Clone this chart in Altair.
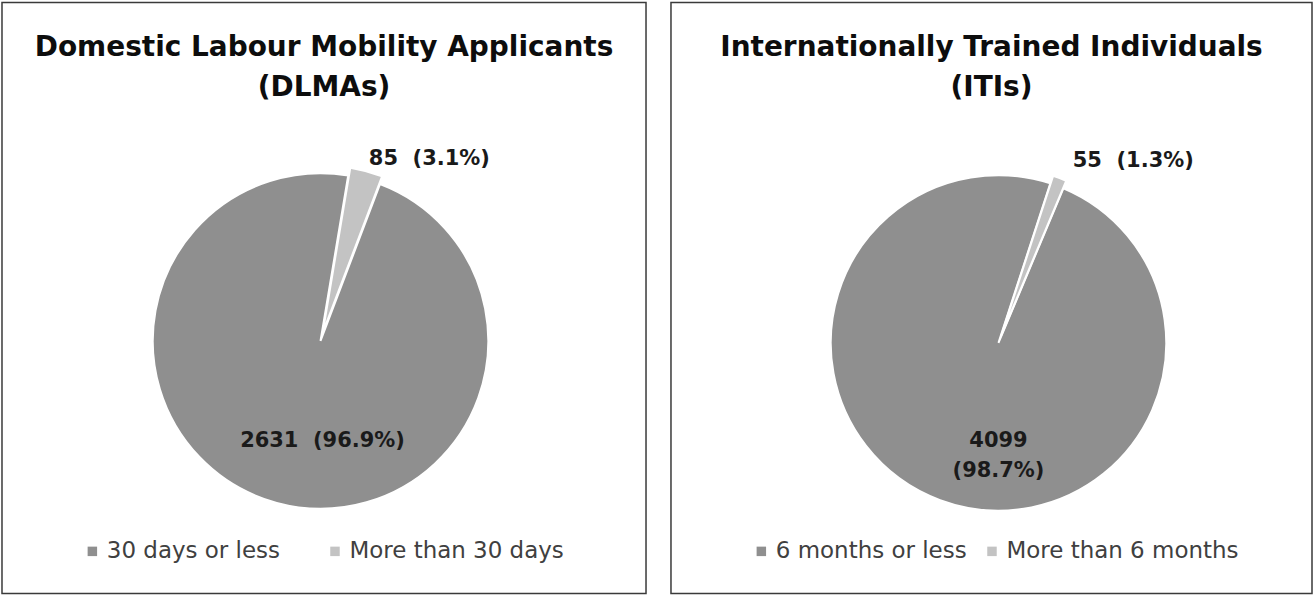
import math
import altair as alt
import pandas as pd

# Processing-time split for the two applicant groups
dlma_categories = ["30 days or less", "More than 30 days"]
dlma_values = [2631, 85]

iti_categories = ["6 months or less", "More than 6 months"]
iti_values = [4099, 55]

SLICE_COLORS = ["#8f8f8f", "#c3c3c3"]
FONT = "DejaVu Sans"
GAP = " \u00a0"  # two visible spaces between count and share


def make_labels(values, main_sep):
    total = sum(values)
    labels = []
    for i, v in enumerate(values):
        pct = f"({v / total * 100:.1f}%)"
        sep = main_sep if i == 0 else GAP
        labels.append(f"{v}{sep}{pct}")
    return labels


def panel(categories, values, title_lines, start_deg, center, radius, explode,
          small_label_xy, main_label_xy, main_sep, legend_xy, legend_pad, width, height):
    df = pd.DataFrame({
        "category": categories,
        "value": values,
        # slot 0 (the small share) is swept first, starting at start_deg
        "slot": [1, 0],
        "label": make_labels(values, main_sep),
    })

    a0 = math.radians(start_deg)
    small_frac = values[1] / sum(values)
    mid = a0 + small_frac * math.pi
    dx = explode * math.sin(mid)
    dy = -explode * math.cos(mid)

    base = (
        alt.Chart(df)
        .transform_joinaggregate(total="sum(value)")
        .transform_window(cum="sum(value)", sort=[alt.SortField("slot")], frame=[None, 0])
        .transform_calculate(f0="(datum.cum - datum.value) / datum.total",
                             f1="datum.cum / datum.total")
    )

    theta = alt.Theta("f0:Q", scale=alt.Scale(domain=[0, 1], range=[a0, a0 + 2 * math.pi]))
    color = alt.Color(
        "category:N",
        scale=alt.Scale(domain=categories, range=SLICE_COLORS),
        legend=alt.Legend(
            title=None, orient="none", direction="horizontal",
            legendX=legend_xy[0], legendY=legend_xy[1],
            symbolType="square", symbolSize=90, symbolStrokeWidth=0,
            labelFont=FONT, labelFontSize=23, labelColor="#404040",
            labelOffset=3, columnPadding=legend_pad, labelLimit=400,
        ),
    )

    main_arc = (
        base.transform_filter("datum.slot == 1")
        .mark_arc(radius=radius, stroke="white", strokeWidth=2)
        .encode(theta=theta, theta2="f1:Q", color=color,
                x=alt.value(center[0]), y=alt.value(center[1]))
    )
    small_arc = (
        base.transform_filter("datum.slot == 0")
        .mark_arc(radius=radius, stroke="white", strokeWidth=2)
        .encode(theta=theta, theta2="f1:Q", color=color,
                x=alt.value(center[0] + dx), y=alt.value(center[1] + dy))
    )

    label_style = dict(font=FONT, fontSize=21, fontWeight="bold", color="#1a1a1a",
                       align="center", baseline="middle", lineBreak="\n", lineHeight=30)
    main_label = (
        base.transform_filter("datum.slot == 1")
        .mark_text(**label_style)
        .encode(text="label:N", x=alt.value(main_label_xy[0]), y=alt.value(main_label_xy[1]))
    )
    small_label = (
        base.transform_filter("datum.slot == 0")
        .mark_text(**label_style)
        .encode(text="label:N", x=alt.value(small_label_xy[0]), y=alt.value(small_label_xy[1]))
    )

    title_layers = []
    for i, line in enumerate(title_lines):
        title_layers.append(
            alt.Chart(alt.Data(values=[{"t": line}]))
            .mark_text(font=FONT, fontSize=28, fontWeight="bold", color="#0d0d0d",
                       align="center", baseline="middle")
            .encode(text="t:N", x=alt.value(width / 2), y=alt.value(46 + 40 * i))
        )

    return alt.layer(*title_layers, main_arc, small_arc, main_label, small_label).properties(
        width=width, height=height
    )


left = panel(
    dlma_categories, dlma_values,
    ["Domestic Labour Mobility Applicants", "(DLMAs)"],
    start_deg=9.5, center=(319, 339), radius=168, explode=8,
    small_label_xy=(428, 157), main_label_xy=(321, 439), main_sep=GAP,
    legend_xy=(79, 538), legend_pad=43, width=645, height=592,
)

right = panel(
    iti_categories, iti_values,
    ["Internationally Trained Individuals", "(ITIs)"],
    start_deg=18, center=(328, 341), radius=168, explode=8,
    small_label_xy=(463, 159), main_label_xy=(328, 439), main_sep="\n",
    legend_xy=(79, 538), legend_pad=13, width=642, height=592,
)

chart = (
    alt.hconcat(left, right, spacing=23)
    .resolve_scale(color="independent")
    .properties(padding={"left": 1, "top": 1, "right": 0, "bottom": 0}, background="white")
    .configure_view(stroke="#3a3a3a", strokeWidth=1.5, fill="white")
)

chart.save("out.html", embed_options={"renderer": "svg", "actions": False})
